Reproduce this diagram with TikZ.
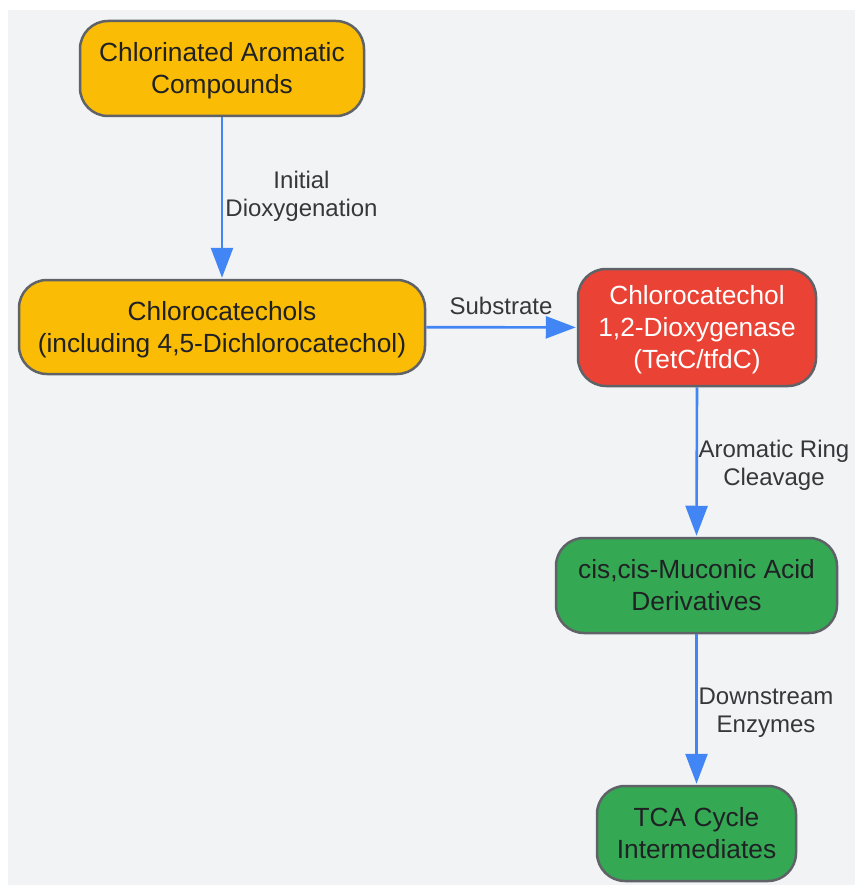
\documentclass[tikz,border=0pt]{standalone}
\usepackage{fontspec}
\setmainfont{Liberation Sans}
\usetikzlibrary{arrows.meta}
\definecolor{bg}{HTML}{F1F3F5}
\definecolor{yel}{HTML}{FABC05}
\definecolor{redn}{HTML}{EA4335}
\definecolor{grn}{HTML}{34A853}
\definecolor{arrc}{HTML}{4285F4}
\definecolor{bord}{HTML}{5F6368}
\definecolor{txt}{HTML}{202124}
\newcommand\mytop{\rule{0pt}{25.4pt}}
\newcommand\mybot{\rule[-6.6pt]{0pt}{6.6pt}}
\tikzset{
  box/.style={draw=bord, line width=2.5pt, rounded corners=28pt, align=center,
    inner sep=0pt, text=txt, font=\fontsize{26.3}{32}\selectfont},
  lbl/.style={align=center, inner sep=0pt, text=txt!90, font=\fontsize{24}{28}\selectfont},
  arr/.style={draw=arrc, line width=2.6pt, -{Triangle[length=30pt,width=22pt]}, shorten >=1pt}
}
\begin{document}
\begin{tikzpicture}[x=1pt,y=-1pt]
\useasboundingbox (0,0) rectangle (855,885);
\fill[white] (0,0) rectangle (855,885);
\fill[bg] (8,10) rectangle (855,885);

\node[box, fill=yel, minimum width=284pt, minimum height=95pt] (n1) at (222,68.5)
  {\mytop Chlorinated Aromatic\\Compounds\mybot};
\node[box, fill=yel, minimum width=406pt, minimum height=94pt] (n2) at (222,327)
  {\mytop Chlorocatechols\\(including 4,5-Dichlorocatechol)\mybot};
\node[box, fill=redn, text=white, minimum width=238pt, minimum height=117pt] (n3) at (697,327.5)
  {\mytop Chlorocatechol\\1,2-Dioxygenase\\(TetC/tfdC)\mybot};
\node[box, fill=grn, minimum width=281pt, minimum height=95pt] (n4) at (696.5,585.5)
  {\mytop cis,cis-Muconic Acid\\Derivatives\mybot};
\node[box, fill=grn, minimum width=199pt, minimum height=95pt] (n5) at (696.5,833.5)
  {\mytop TCA Cycle\\Intermediates\mybot};

\draw[arr] (n1) -- (n2);
\draw[arr] (n2) -- (n3);
\draw[arr] (n3.south) -- (n4.north);
\draw[arr] (n4.south) -- (n5.north);

\node[lbl] (l1) at (301.5,196) {Initial\\Dioxygenation};
\node[lbl] (l2) at (501,306) {Substrate};
\node[lbl] (l3) at (774,465) {Aromatic Ring\\Cleavage};
\node[lbl] (l4) at (766,713) {Downstream\\Enzymes};
\end{tikzpicture}
\end{document}
